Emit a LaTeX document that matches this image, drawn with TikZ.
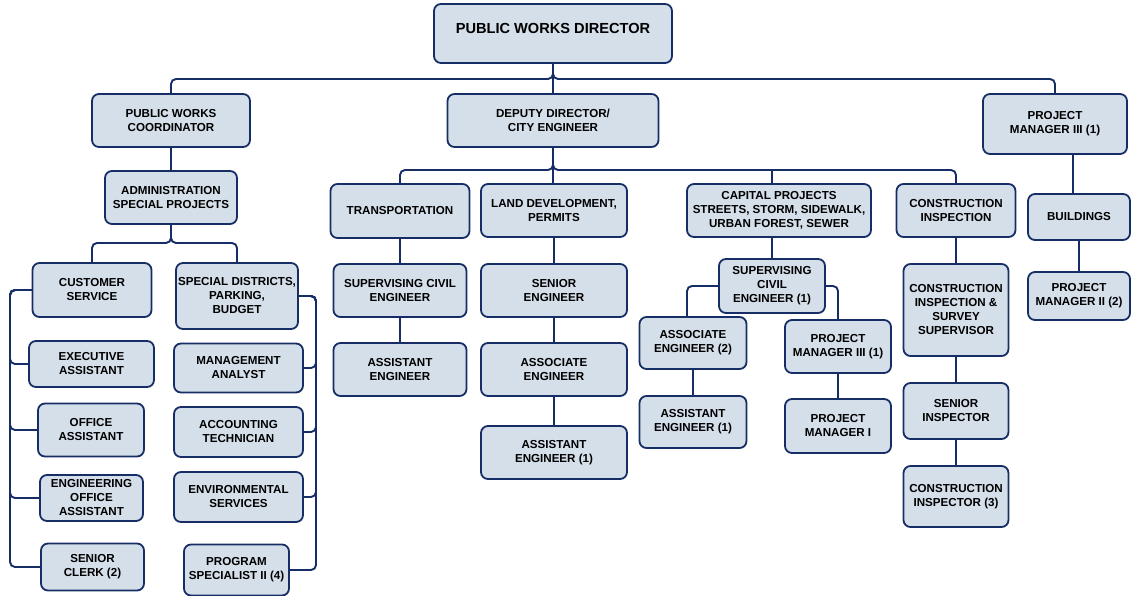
\documentclass[tikz,border=0pt]{standalone}
\usepackage{fontspec}
\setmainfont{Liberation Sans}
\definecolor{boxfill}{HTML}{D5DFEA}
\definecolor{navy}{HTML}{172D66}
\tikzset{
  bx/.style={draw=navy, fill=boxfill, line width=1.8pt, rounded corners=7pt,
    inner sep=0pt, align=center, text=black,
    font=\bfseries\fontsize{11.6}{14}\selectfont},
  conn/.style={draw=navy, line width=1.9pt, rounded corners=5pt}
}
\begin{document}
\begin{tikzpicture}[x=1pt,y=-1pt]
\useasboundingbox (0,0) rectangle (1131,596);
% top level
\node[bx, minimum width=238pt, minimum height=59pt, font=\bfseries\fontsize{14.6}{17}\selectfont] (dir) at (553,33.5) {\raisebox{0pt}[0pt][0pt]{PUBLIC WORKS DIRECTOR}};
\node[bx, minimum width=158pt, minimum height=53pt] (coord) at (171,120.5) {PUBLIC WORKS\\COORDINATOR};
\node[bx, minimum width=211pt, minimum height=53pt] (dep) at (553,120.5) {DEPUTY DIRECTOR/\\CITY ENGINEER};
\node[bx, minimum width=144pt, minimum height=60pt] (pm3a) at (1055,124) {PROJECT\\MANAGER III (1)};
% admin branch
\node[bx, minimum width=132pt, minimum height=53pt] (admin) at (171,197.5) {ADMINISTRATION\\SPECIAL PROJECTS};
\node[bx, minimum width=119pt, minimum height=54pt] (cs) at (92,290) {CUSTOMER\\SERVICE};
\node[bx, minimum width=122pt, minimum height=66pt] (sd) at (237,296) {SPECIAL DISTRICTS,\\PARKING,\\BUDGET};
\node[bx, minimum width=125pt, minimum height=46pt] (ea) at (91.5,364) {EXECUTIVE\\ASSISTANT};
\node[bx, minimum width=106pt, minimum height=53pt] (oa) at (91,430) {OFFICE\\ASSISTANT};
\node[bx, minimum width=103pt, minimum height=46pt] (eoa) at (91.5,498) {ENGINEERING\\OFFICE\\ASSISTANT};
\node[bx, minimum width=103pt, minimum height=47pt] (sc) at (92.5,567) {SENIOR\\CLERK (2)};
\node[bx, minimum width=129pt, minimum height=49pt] (ma) at (238.5,368) {MANAGEMENT\\ANALYST};
\node[bx, minimum width=129pt, minimum height=50pt] (at) at (238.5,432) {ACCOUNTING\\TECHNICIAN};
\node[bx, minimum width=129pt, minimum height=50pt] (es) at (238.5,497) {ENVIRONMENTAL\\SERVICES};
\node[bx, minimum width=105pt, minimum height=51pt] (ps) at (236.5,570) {PROGRAM\\SPECIALIST II (4)};
% deputy branch
\node[bx, minimum width=139pt, minimum height=54pt] (trans) at (400,211) {TRANSPORTATION};
\node[bx, minimum width=133pt, minimum height=53pt] (scea) at (400,290.5) {SUPERVISING CIVIL\\ENGINEER};
\node[bx, minimum width=133pt, minimum height=53pt] (aea) at (400,369.5) {ASSISTANT\\ENGINEER};
\node[bx, minimum width=146pt, minimum height=53pt] (land) at (554,210.5) {LAND DEVELOPMENT,\\PERMITS};
\node[bx, minimum width=146pt, minimum height=53pt] (se) at (554,290.5) {SENIOR\\ENGINEER};
\node[bx, minimum width=146pt, minimum height=53pt] (asse) at (554,369.5) {ASSOCIATE\\ENGINEER};
\node[bx, minimum width=146pt, minimum height=53pt] (aeb) at (554,452.5) {ASSISTANT\\ENGINEER (1)};
\node[bx, minimum width=184pt, minimum height=53pt] (cap) at (779,210.5) {CAPITAL PROJECTS\\STREETS, STORM, SIDEWALK,\\URBAN FOREST, SEWER};
\node[bx, minimum width=106pt, minimum height=54pt] (sce1) at (772,286) {SUPERVISING\\CIVIL\\ENGINEER (1)};
\node[bx, minimum width=107pt, minimum height=52pt] (ae2) at (693,343) {ASSOCIATE\\ENGINEER (2)};
\node[bx, minimum width=107pt, minimum height=52pt] (ae1) at (693,422) {ASSISTANT\\ENGINEER (1)};
\node[bx, minimum width=106pt, minimum height=53pt] (pm3b) at (838,346.5) {PROJECT\\MANAGER III (1)};
\node[bx, minimum width=106pt, minimum height=54pt] (pm1) at (838,426) {PROJECT\\MANAGER I};
\node[bx, minimum width=119pt, minimum height=53pt] (ci) at (956,210.5) {CONSTRUCTION\\INSPECTION};
\node[bx, minimum width=105pt, minimum height=92pt] (cisv) at (956,310) {CONSTRUCTION\\INSPECTION \&\\SURVEY\\SUPERVISOR};
\node[bx, minimum width=105pt, minimum height=56pt] (si) at (956,411) {SENIOR\\INSPECTOR};
\node[bx, minimum width=105pt, minimum height=61pt] (cinsp) at (956,496.5) {CONSTRUCTION\\INSPECTOR (3)};
% project manager branch
\node[bx, minimum width=102pt, minimum height=46pt] (bld) at (1079,217) {BUILDINGS};
\node[bx, minimum width=102pt, minimum height=48pt] (pm2) at (1079,296) {PROJECT\\MANAGER II (2)};
% bus coordinates
\coordinate (dirbus) at (553,79);
\coordinate (abus) at (171,243);
\coordinate (dbus) at (553,170);
\coordinate (lb) at (10,0);
\coordinate (rb) at (316,0);
\coordinate (pmx) at (1073,0);
% connectors
\draw[conn] (coord.north) |- (dirbus) -- (dir.south);
\draw[conn] (pm3a.north) |- (dirbus) -- (dir.south);
\draw[conn] (dir.south) -- (dep.north);
\draw[conn] (coord.south) -- (admin.north);
\draw[conn] (cs.north) |- (abus) -- (admin.south);
\draw[conn] (sd.north) |- (abus) -- (admin.south);
\draw[conn] (cs.west) -- (cs.west -| lb) |- (ea.west);
\draw[conn] (cs.west) -- (cs.west -| lb) |- (oa.west);
\draw[conn] (cs.west) -- (cs.west -| lb) |- (eoa.west);
\draw[conn] (cs.west) -- (cs.west -| lb) |- (sc.west);
\draw[conn] (sd.east) -- (sd.east -| rb) |- (ma.east);
\draw[conn] (sd.east) -- (sd.east -| rb) |- (at.east);
\draw[conn] (sd.east) -- (sd.east -| rb) |- (es.east);
\draw[conn] (sd.east) -- (sd.east -| rb) |- (ps.east);
\draw[conn] (trans.north) |- (dbus) -- (dep.south);
\draw[conn] (ci.north) |- (dbus) -- (dep.south);
\draw[conn] (dep.south) -- (land.north -| dep.south);
\draw[conn] (cap.north -| sce1.north) -- (sce1.north |- dbus);
\draw[conn] (trans.south) -- (scea.north);
\draw[conn] (scea.south) -- (aea.north);
\draw[conn] (land.south) -- (se.north);
\draw[conn] (se.south) -- (asse.north);
\draw[conn] (asse.south) -- (aeb.north);
\draw[conn] (cap.south -| sce1.north) -- (sce1.north);
\draw[conn] (sce1.west) -| ([xshift=-6pt]ae2.north);
\draw[conn] (sce1.east) -| (pm3b.north);
\draw[conn] (ae2.south) -- (ae1.north);
\draw[conn] (pm3b.south) -- (pm1.north);
\draw[conn] (ci.south) -- (cisv.north);
\draw[conn] (cisv.south) -- (si.north);
\draw[conn] (si.south) -- (cinsp.north);
\draw[conn] (pm3a.south -| pmx) -- (bld.north -| pmx);
\draw[conn] (bld.south) -- (pm2.north);
\end{tikzpicture}
\end{document}
